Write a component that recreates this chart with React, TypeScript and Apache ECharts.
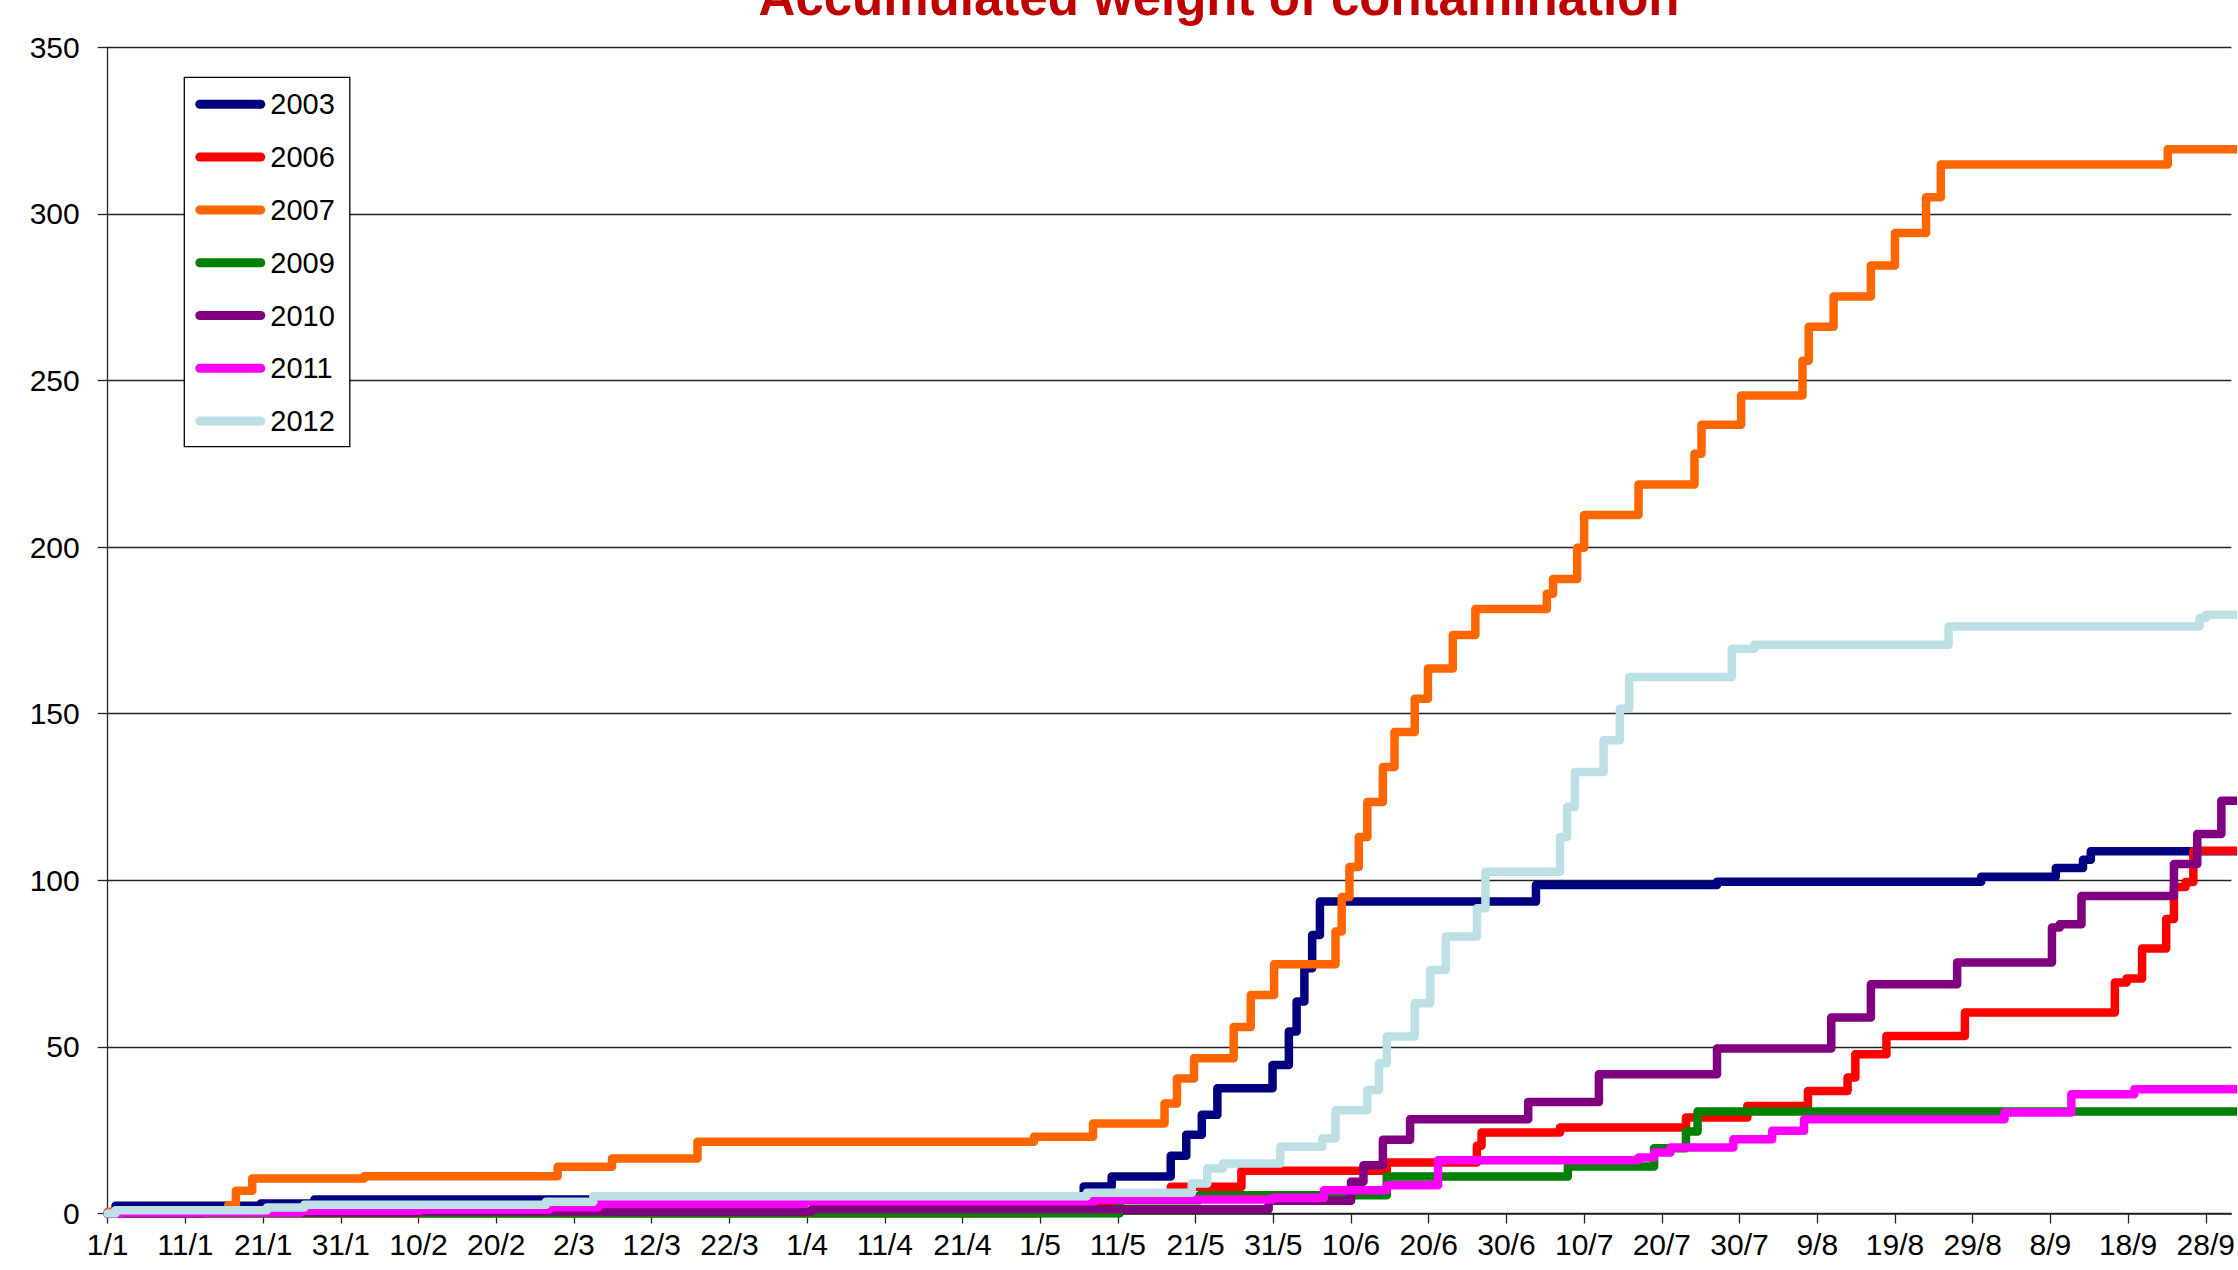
import React, { useEffect, useRef } from "react";
import * as echarts from "echarts";

const titleText = "Accumulated weight of contamination";

const tickLabels = [
  "1/1", "11/1", "21/1", "31/1", "10/2", "20/2", "2/3", "12/3", "22/3", "1/4",
  "11/4", "21/4", "1/5", "11/5", "21/5", "31/5", "10/6", "20/6", "30/6", "10/7",
  "20/7", "30/7", "9/8", "19/8", "29/8", "8/9", "18/9", "28/9",
];

const seriesNames = ["2003", "2006", "2007", "2009", "2010", "2011", "2012"];
const seriesColors = ["#000080", "#FF0000", "#FF6600", "#008000", "#800080", "#FF00FF", "#BCE0E3"];

// [day of year (0 = 1/1), accumulated weight]
const y2003 = [
  [0, 0], [1, 2.3], [19.7, 3.0], [26.6, 4.2], [125.6, 8.1], [129.2, 11.1], [136.8, 17.3],
  [138.8, 23.6], [140.8, 29.6], [142.8, 37.6], [149.9, 44.6], [152, 54.6], [153, 63.6],
  [154, 73.6], [155, 83.6], [156, 93.6], [183.8, 98.6], [207.1, 99.6], [241.1, 101.1],
  [250.7, 103.7], [254.2, 106.2], [255.2, 108.7], [274, 108.7],
];
const y2006 = [
  [0, 0], [120, 2], [129.7, 4.3], [136.8, 8.0], [145.9, 12.8], [164.6, 15.3], [176.2, 20.3],
  [176.8, 24.3], [186.9, 25.8], [203.1, 28.8], [211, 32.3], [218.8, 36.8], [223.9, 40.8],
  [224.9, 47.8], [228.9, 53.3], [239, 60.3], [258.3, 69.3], [259.8, 70.5], [261.8, 79.5],
  [264.9, 88.4], [265.9, 98], [267.4, 99.5], [268.4, 108.9], [274, 108.9],
];
const y2007 = [
  [0, 0.5], [15.5, 2.5], [16.5, 6.8], [18.6, 10.5], [33, 11.2], [57.9, 14.0], [64.9, 16.5],
  [75.9, 21.5], [119.2, 23.0], [126.8, 27.0], [136, 33.0], [137.6, 40.5], [139.8, 46.6],
  [144.9, 56], [147.1, 65.6], [150.1, 74.8], [158, 84.6], [158.8, 95], [159.8, 104],
  [161, 113], [162.1, 123.5], [164.1, 134], [165.6, 144.5], [168.2, 154.5], [169.9, 163.6],
  [173.1, 173.6], [176, 181.4], [185.2, 186], [186, 190.4], [189.1, 199.8], [190, 209.6],
  [197, 218.8], [204.2, 228], [205.1, 236.7], [210.2, 245.5], [218.1, 255.9], [218.9, 266.1],
  [222.1, 275.2], [226.9, 284.5], [230, 294.3], [234, 305], [235.9, 314.8], [265.1, 319.4],
  [274, 319.4],
];
const y2009 = [
  [0, 0], [130.2, 4], [140.5, 5.5], [164.6, 11.1], [187.9, 14.1], [199, 19.6], [203.1, 24.6],
  [204.6, 30.6], [274, 30.6],
];
const y2010 = [
  [0, 0], [12.3, 0.3], [39.7, 0.6], [90.6, 1.3], [149.4, 3.8], [160, 9.5], [161.6, 14.5],
  [164.1, 22.1], [167.6, 28.3], [182.8, 33.5], [191.9, 41.8], [207.1, 49.5], [221.8, 58.8],
  [226.9, 68.8], [238, 75.3], [250.2, 85.8], [251.2, 86.8], [254, 95.3], [265.9, 104.9],
  [268.9, 113.9], [272, 123.9], [274, 123.9],
];
const y2011 = [
  [0, 0], [1.9, 0.3], [24.9, 0.8], [40.2, 1.2], [56.8, 1.9], [63.1, 2.9], [89.7, 3.7],
  [127, 4.2], [149.9, 4.7], [156.5, 7.0], [164.6, 8.5], [171.2, 16], [197, 16.8], [199, 18.3],
  [201.1, 19.8], [209.2, 22.3], [214.2, 24.8], [218.3, 28.3], [244.1, 30.3], [252.7, 35.8],
  [260.8, 37.3], [274, 37.3],
];
const y2012 = [
  [0, 0], [1, 1.0], [20.5, 1.8], [25.3, 2.6], [56.4, 3.5], [62.5, 5.2], [126, 6.2], [139.5, 9],
  [141.5, 13.5], [143.5, 15], [150.9, 20], [156.3, 22.5], [158, 31], [162.1, 37.1],
  [163.6, 45.1], [164.6, 53.1], [168.2, 63.1], [170.2, 73.1], [172.2, 83.1], [176.2, 91.6],
  [177.3, 102.6], [186.9, 113], [187.8, 122], [188.8, 132.5], [192.5, 142], [194.6, 151.5],
  [195.8, 161], [209, 169.5], [211.9, 170.7], [236.9, 176.2], [269.2, 178.7], [270, 179.7],
  [274, 179.7],
];

const seriesData = [y2003, y2006, y2007, y2009, y2010, y2011, y2012];

const FONT = '"Liberation Sans", Arial, sans-serif';
const W = 2238;
const H = 1270;
const GRID_LEFT = 107.7;
const GRID_TOP = 47.3;
const GRID_BOTTOM = 56.5;
const PX_PER_DAY = 7.795;
const X_MAX = (W - GRID_LEFT) / PX_PER_DAY;

export default function App() {
  const ref = useRef<HTMLDivElement>(null);

  useEffect(() => {
    if (!ref.current) return;
    const chart = echarts.init(ref.current, undefined, { renderer: "svg" });
    const tickValues = tickLabels.map((_, i) => i * 10);

    chart.setOption({
      animation: false,
      backgroundColor: "#ffffff",
      graphic: [
        {
          type: "text",
          x: 1219,
          y: -3,
          silent: true,
          style: {
            text: titleText,
            fill: "#C00000",
            fontSize: 51,
            fontWeight: "bold",
            fontFamily: FONT,
            align: "center",
            verticalAlign: "middle",
          },
        },
      ],
      grid: { left: GRID_LEFT, top: GRID_TOP, right: 0, bottom: GRID_BOTTOM, containLabel: false },
      legend: {
        orient: "vertical",
        left: 184.3,
        top: 77.3,
        padding: [12.5, 15, 11, 11],
        itemGap: 23.8,
        itemWidth: 70,
        itemHeight: 9,
        icon: "path://M4.5,0L65.5,0A4.5,4.5,0,0,1,65.5,9L4.5,9A4.5,4.5,0,0,1,4.5,0Z",
        backgroundColor: "#ffffff",
        borderColor: "#000000",
        borderWidth: 1.3,
        borderRadius: 0,
        selectedMode: false,
        data: seriesNames,
        textStyle: { color: "#000", fontSize: 29, fontFamily: FONT, lineHeight: 29 },
      },
      xAxis: {
        type: "value",
        min: 0,
        max: X_MAX,
        interval: 10,
        axisLine: { show: true, onZero: false, lineStyle: { color: "#222", width: 1.5 } },
        axisTick: {
          show: true,
          length: 10,
          inside: false,
          customValues: tickValues,
          lineStyle: { color: "#222", width: 1.3 },
        },
        axisLabel: {
          customValues: tickValues,
          margin: 16,
          color: "#000",
          fontSize: 30,
          fontFamily: FONT,
          showMinLabel: true,
          showMaxLabel: true,
          hideOverlap: false,
          formatter: (v: number) => tickLabels[Math.round(v / 10)] ?? "",
        },
        splitLine: { show: false },
      },
      yAxis: {
        type: "value",
        min: 0,
        max: 350,
        interval: 50,
        axisLine: { show: true, lineStyle: { color: "#222", width: 1.3 } },
        axisTick: { show: true, length: 10, inside: false, lineStyle: { color: "#222", width: 1.3 } },
        axisLabel: { margin: 28, color: "#000", fontSize: 30, fontFamily: FONT },
        splitLine: { show: true, lineStyle: { color: "#222", width: 1.3 } },
      },
      series: seriesNames.map((name, i) => ({
        name,
        type: "line",
        step: "end",
        data: seriesData[i],
        showSymbol: false,
        symbol: "none",
        silent: true,
        clip: true,
        color: seriesColors[i],
        itemStyle: { color: seriesColors[i] },
        lineStyle: { color: seriesColors[i], width: 8.5, cap: "round", join: "round" },
        emphasis: { disabled: true },
      })),
    });

    return () => chart.dispose();
  }, []);

  return (
    <div
      ref={ref}
      style={{ position: "fixed", left: 0, top: 0, width: W, height: H, background: "#fff" }}
    />
  );
}
